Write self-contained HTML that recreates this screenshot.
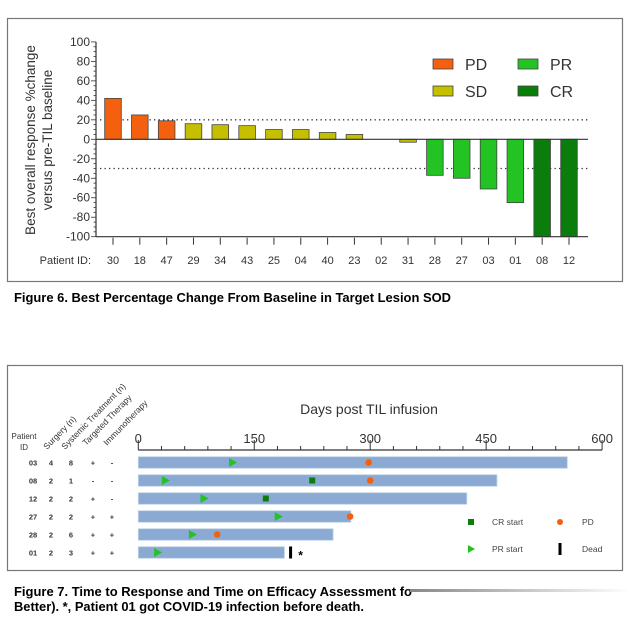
<!DOCTYPE html>
<html><head><meta charset="utf-8"><style>
html,body{margin:0;padding:0;background:#fff;}
svg{display:block;font-family:"Liberation Sans",Arial,sans-serif;}
</style></head><body>
<svg id="svg" width="640" height="627" viewBox="0 0 640 627" xmlns="http://www.w3.org/2000/svg">
<defs><linearGradient id="fade" x1="0" x2="1"><stop offset="0" stop-color="#888"/><stop offset="1" stop-color="#fff"/></linearGradient></defs>
<rect x="7.5" y="18.5" width="615" height="263" fill="#fff" stroke="#777" stroke-width="1.2"/>
<g id="c1"></g>
<text x="14" y="302" font-size="13" font-weight="bold" textLength="437" lengthAdjust="spacingAndGlyphs">Figure 6. Best Percentage Change From Baseline in Target Lesion SOD</text>
<rect x="7.5" y="365.5" width="615" height="205" fill="#fff" stroke="#777" stroke-width="1.2"/>
<g id="c2"></g>
<text x="14" y="596" font-size="13" font-weight="bold" textLength="398" lengthAdjust="spacingAndGlyphs">Figure 7. Time to Response and Time on Efficacy Assessment fo</text>
<rect x="410" y="589" width="220" height="3" fill="url(#fade)"/>
<text x="14" y="611" font-size="13" font-weight="bold" textLength="350" lengthAdjust="spacingAndGlyphs">Better). *, Patient 01 got COVID-19 infection before death.</text>
</svg>
<script>
const patients=["30","18","47","29","34","43","25","04","40","23","02","31","28","27","03","01","08","12"];
const changes=[42,25,19,16,15,14,10,10,7,5,0,-3,-37,-40,-51,-65,-100,-100];
const responses=["PD","PD","PD","SD","SD","SD","SD","SD","SD","SD","SD","SD","PR","PR","PR","PR","CR","CR"];
const yTicks=[100,80,60,40,20,0,-20,-40,-60,-80,-100];
const refLines=[20,-30];

const swPatients=["03","08","12","27","28","01"];
const swSurgery=["4","2","2","2","2","2"];
const swSystemic=["8","1","2","2","6","3"];
const swTargeted=["+","-","+","+","+","+"];
const swImmuno=["-","-","-","+","+","+"];
const swDuration=[555,464,425,275,252,189];
const swPR=[122,35,85,181,70,25];
const swCR=[null,225,165,null,null,null];
const swPD=[298,300,null,274,102,null];
const swDead=[null,null,null,null,null,197];
const xTicks=[0,150,300,450,600];

const NS="http://www.w3.org/2000/svg";
function mk(p,t,a,txt){const e=document.createElementNS(NS,t);for(const k in a)e.setAttribute(k,a[k]);if(txt!=null)e.textContent=txt;p.appendChild(e);return e;}
const colors={PD:"#f5600f",SD:"#c4c000",PR:"#22c322",CR:"#0a7d0a"};

// chart 1
const c1=document.getElementById('c1');
const y=v=>139.3-v*0.974;
const x=i=>113+i*(569-113)/17;
const ax=96;
let e;
e=mk(c1,'line',{x1:ax,x2:ax,y1:y(100),y2:y(-100),stroke:'#333','stroke-width':1.2});

for(let v=-100;v<=100;v+=5){mk(c1,'line',{x1:ax-(v%20===0?5:2.5),x2:ax,y1:y(v),y2:y(v),stroke:'#333','stroke-width':0.8});}
yTicks.forEach(v=>{e=mk(c1,'text',{x:ax-6,y:y(v)+4,'font-size':12,'text-anchor':'end',fill:'#333'},String(v));
});
e=mk(c1,'text',{transform:'translate(35,140) rotate(-90)','font-size':13.5,'text-anchor':'middle',fill:'#333'},'Best overall response %change');

e=mk(c1,'text',{transform:'translate(52,140) rotate(-90)','font-size':13.5,'text-anchor':'middle',fill:'#333'},'versus pre-TIL baseline');

refLines.forEach(v=>{e=mk(c1,'line',{x1:100,x2:588,y1:y(v),y2:y(v),stroke:'#333','stroke-width':1.3,'stroke-dasharray':'1.3 3.2'});
});
patients.forEach((p,i)=>{
 const v=changes[i];
 if(v!==0){e=mk(c1,'rect',{x:x(i)-8.3,y:Math.min(y(v),y(0)),width:16.6,height:Math.abs(y(v)-y(0)),fill:colors[responses[i]],stroke:'#444','stroke-width':0.8});
 }
 mk(c1,'line',{x1:x(i),x2:x(i),y1:y(-100)+1,y2:y(-100)+8,stroke:'#333','stroke-width':1});
 e=mk(c1,'text',{x:x(i),y:264,'font-size':11,'text-anchor':'middle',fill:'#333'},p);
 
});
e=mk(c1,'line',{x1:ax,x2:588,y1:y(0),y2:y(0),stroke:'#333','stroke-width':1.2});

e=mk(c1,'line',{x1:ax,x2:588,y1:y(-100),y2:y(-100),stroke:'#333','stroke-width':1.2});

e=mk(c1,'text',{x:91,y:264,'font-size':11,'text-anchor':'end',fill:'#333'},'Patient ID:');

[["PD",433,64],["SD",433,91],["PR",518,64],["CR",518,91]].forEach(([k,lx,ly])=>{
 e=mk(c1,'rect',{x:lx,y:ly-5,width:20,height:10,fill:colors[k],stroke:'#444','stroke-width':0.8});
 
 e=mk(c1,'text',{x:lx+32,y:ly+6,'font-size':16,fill:'#333'},k);
 
});

// chart 2
const c2=document.getElementById('c2');
const dx=d=>138.3+d*0.773;
const ry=i=>462.5+i*18;
e=mk(c2,'text',{x:369,y:414,'font-size':14,'text-anchor':'middle',fill:'#333'},'Days post TIL infusion');

e=mk(c2,'line',{x1:dx(0),x2:dx(600),y1:450,y2:450,stroke:'#333','stroke-width':1.2});

for(let d=0;d<=600;d+=30){mk(c2,'line',{x1:dx(d),x2:dx(d),y1:450,y2:d%150===0?440:446,stroke:'#333','stroke-width':1});}
xTicks.forEach(d=>{e=mk(c2,'text',{x:dx(d),y:443,'font-size':13,'text-anchor':'middle',fill:'#333'},String(d));
});
e=mk(c2,'text',{x:24,y:439,'font-size':8,'text-anchor':'middle',fill:'#333'},'Patient');

mk(c2,'text',{x:24,y:450,'font-size':8,'text-anchor':'middle',fill:'#333'},'ID');
[["Surgery (n)",47,450],["Systemic Treatment (n)",65,450],["Targeted Therapy",86,446],["Immunotherapy",107,446]].forEach(([t,hx,hy])=>{
 e=mk(c2,'text',{transform:`translate(${hx},${hy}) rotate(-46)`,'font-size':8.5,fill:'#333'},t);
 
});
swPatients.forEach((p,i)=>{
 const cy=ry(i);
 [[p,33],[swSurgery[i],51],[swSystemic[i],71],[swTargeted[i],93],[swImmuno[i],112]].forEach(([t,cx])=>{
  e=mk(c2,'text',{x:cx,y:cy+3,'font-size':7.5,'font-weight':'bold','text-anchor':'middle',fill:'#333'},t);
  
 });
 e=mk(c2,'rect',{x:dx(0),y:cy-5.8,width:dx(swDuration[i])-dx(0),height:11.6,fill:'#8aaad4',stroke:'#c5d4ea','stroke-width':0.8});
 
 if(swPR[i]!=null){const px=dx(swPR[i]);e=mk(c2,'polygon',{points:`${px-3.5},${cy-4.5} ${px+4.5},${cy} ${px-3.5},${cy+4.5}`,fill:'#22c322'});
  }
 if(swCR[i]!=null){e=mk(c2,'rect',{x:dx(swCR[i])-3,y:cy-3,width:6,height:6,fill:'#0a7d0a'});
  }
 if(swPD[i]!=null){e=mk(c2,'circle',{cx:dx(swPD[i]),cy:cy,r:3.3,fill:'#f5600f'});
  }
 if(swDead[i]!=null){const ddx=dx(swDead[i]);e=mk(c2,'rect',{x:ddx-1.5,y:cy-6,width:3,height:12,fill:'#000'});
  
  e=mk(c2,'text',{x:ddx+10,y:cy+7,'font-size':12,'font-weight':'bold','text-anchor':'middle'},'*');
  }
});
e=mk(c2,'rect',{x:468,y:519,width:6,height:6,fill:'#0a7d0a'});
e=mk(c2,'text',{x:492,y:525,'font-size':8.5,fill:'#444'},'CR start');
e=mk(c2,'circle',{cx:560,cy:522,r:3,fill:'#f5600f'});
e=mk(c2,'text',{x:582,y:525,'font-size':8.5,fill:'#444'},'PD');
e=mk(c2,'polygon',{points:'468,545 475,549 468,553',fill:'#22c322'});
e=mk(c2,'text',{x:492,y:552,'font-size':8.5,fill:'#444'},'PR start');
e=mk(c2,'rect',{x:558.5,y:543,width:3,height:12,fill:'#000'});
e=mk(c2,'text',{x:582,y:552,'font-size':8.5,fill:'#444'},'Dead');
</script>
</body></html>
